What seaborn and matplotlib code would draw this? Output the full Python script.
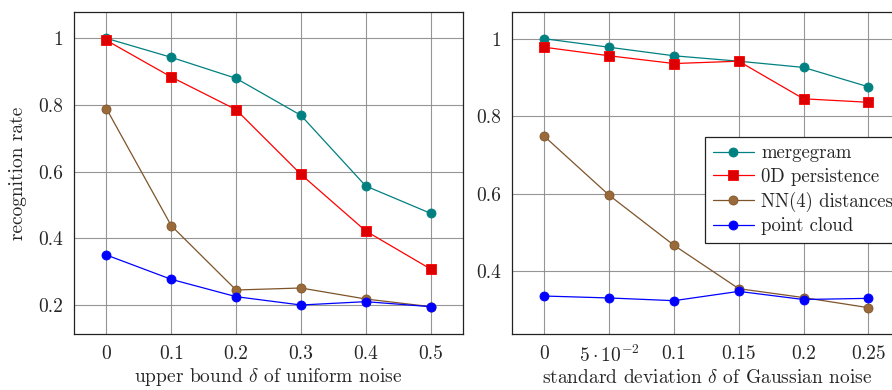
import matplotlib
matplotlib.use("Agg")
import matplotlib.pyplot as plt
import seaborn as sns
import pandas as pd

# ---- data ----
series_names = ["mergegram", "0D persistence", "NN(4) distances", "point cloud"]

uniform_x = [0, 0.1, 0.2, 0.3, 0.4, 0.5]
uniform_mergegram = [1.0, 0.943, 0.88, 0.769, 0.557, 0.475]
uniform_0d = [0.994, 0.884, 0.786, 0.592, 0.422, 0.308]
uniform_nn4 = [0.789, 0.438, 0.245, 0.251, 0.218, 0.195]
uniform_cloud = [0.35, 0.277, 0.225, 0.2, 0.21, 0.195]

gauss_x = [0, 0.05, 0.1, 0.15, 0.2, 0.25]
gauss_mergegram = [1.0, 0.978, 0.956, 0.942, 0.926, 0.876]
gauss_0d = [0.978, 0.956, 0.936, 0.942, 0.845, 0.836]
gauss_nn4 = [0.748, 0.596, 0.467, 0.355, 0.332, 0.306]
gauss_cloud = [0.336, 0.331, 0.324, 0.348, 0.327, 0.330]

uniform_xticklabels = ["0", "0.1", "0.2", "0.3", "0.4", "0.5"]
gauss_xticklabels = ["0", r"$5\cdot10^{-2}$", "0.1", "0.15", "0.2", "0.25"]
left_yticks = [0.2, 0.4, 0.6, 0.8, 1.0]
left_yticklabels = ["0.2", "0.4", "0.6", "0.8", "1"]
right_yticks = [0.4, 0.6, 0.8, 1.0]
right_yticklabels = ["0.4", "0.6", "0.8", "1"]

colors = ["#008080", "#ff0000", "#7e5429", "#0000ff"]
markers = ["o", "s", "o", "o"]
face = ["#008080", "#dd0000", "#9a6a3a", "#0000ff"]

sns.set_theme(style="white")
plt.rcParams["font.family"] = ["cmr10", "DejaVu Serif"]
plt.rcParams["mathtext.fontset"] = "cm"
plt.rcParams["axes.formatter.use_mathtext"] = True

fig = plt.figure(figsize=(8.92, 3.9), dpi=100)
W, H = 892, 390
ax1 = fig.add_axes([74 / W, (H - 334) / H, (463 - 74) / W, 322 / H])
ax2 = fig.add_axes([512 / W, (H - 334) / H, (902 - 512) / W, 322 / H])


def draw(ax, xs, ys_list):
    for name, ys, c, m, fc in zip(series_names, ys_list, colors, markers, face):
        df = pd.DataFrame({"x": xs, "y": ys})
        sns.lineplot(data=df, x="x", y="y", ax=ax, color=c, linewidth=0.9,
                     marker=m, markersize=7 if m == "s" else 6.5,
                     markerfacecolor=fc, markeredgecolor=c, markeredgewidth=0.6,
                     label=name, legend=False)


draw(ax1, uniform_x, [uniform_mergegram, uniform_0d, uniform_nn4, uniform_cloud])
draw(ax2, gauss_x, [gauss_mergegram, gauss_0d, gauss_nn4, gauss_cloud])

for ax in (ax1, ax2):
    ax.grid(True, color="#8a8a8a", linewidth=0.8, alpha=0.9)
    ax.set_axisbelow(True)
    for s in ax.spines.values():
        s.set_color("#222222")
        s.set_linewidth(0.9)
    ax.tick_params(axis="both", labelsize=14, length=0, pad=8)

ax1.set_xlim(-0.05, 0.55)
ax1.set_ylim(0.113, 1.079)
ax1.set_xticks(uniform_x)
ax1.set_xticklabels(uniform_xticklabels)
ax1.set_yticks(left_yticks)
ax1.set_yticklabels(left_yticklabels)
ax1.set_xlabel(r"upper bound $\delta$ of uniform noise", fontsize=14, labelpad=2)
ax1.set_ylabel("recognition rate", fontsize=14, labelpad=8)

ax2.set_xlim(-0.025, 0.276)
ax2.set_ylim(0.238, 1.069)
ax2.set_xticks(gauss_x)
ax2.set_xticklabels(gauss_xticklabels)
ax2.set_yticks(right_yticks)
ax2.set_yticklabels(right_yticklabels)
ax2.set_xlabel(r"standard deviation $\delta$ of Gaussian noise", fontsize=14, labelpad=2)
ax2.set_ylabel("")

leg = ax2.legend(loc="upper left", bbox_to_anchor=(0.495, 0.612), fontsize=13.5,
                 frameon=True, fancybox=False, framealpha=1, edgecolor="#222222",
                 handlelength=2.2, handletextpad=0.4, borderpad=0.4,
                 labelspacing=0.3, borderaxespad=0)
leg.get_frame().set_linewidth(0.9)

fig.savefig("out.png", dpi=100)
